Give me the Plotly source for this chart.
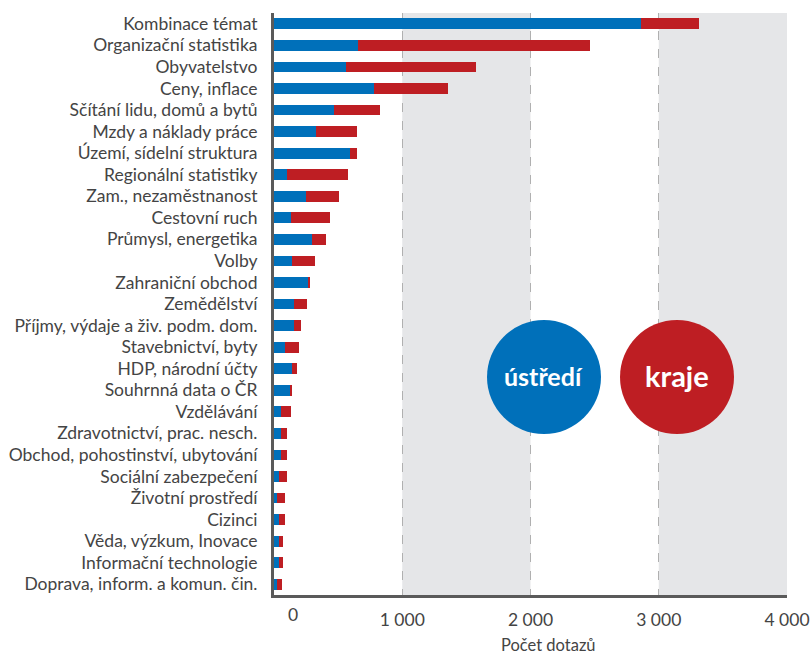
import plotly.graph_objects as go

categories = [
    "Kombinace témat", "Organizační statistika", "Obyvatelstvo", "Ceny, inflace",
    "Sčítání lidu, domů a bytů", "Mzdy a náklady práce", "Území, sídelní struktura",
    "Regionální statistiky", "Zam., nezaměstnanost", "Cestovní ruch",
    "Průmysl, energetika", "Volby", "Zahraniční obchod", "Zemědělství",
    "Příjmy, výdaje a živ. podm. dom.", "Stavebnictví, byty", "HDP, národní účty",
    "Souhrnná data o ČR", "Vzdělávání", "Zdravotnictví, prac. nesch.",
    "Obchod, pohostinství, ubytování", "Sociální zabezpečení", "Životní prostředí",
    "Cizinci", "Věda, výzkum, Inovace", "Informační technologie",
    "Doprava, inform. a komun. čin.",
]
ustredi = [2860, 657, 562, 783, 464, 324, 590, 100, 253, 131, 297, 141, 265, 155,
           155, 88, 141, 125, 57, 57, 57, 40, 26, 40, 40, 40, 26]
kraje = [457, 1805, 1013, 570, 361, 321, 55, 475, 255, 302, 110, 182, 17, 100,
         56, 109, 41, 13, 73, 43, 43, 60, 60, 46, 33, 33, 34]
x_ticks = [1000, 2000, 3000, 4000]
x_ticktext = ["1 000", "2 000", "3 000", "4 000"]

BLUE = "#0070BA"
RED = "#BE1E23"
TEXT = "#444444"
FONT = "Lato"

fig = go.Figure()
fig.add_trace(go.Bar(y=categories, x=ustredi, orientation="h", name="ústředí",
                     marker=dict(color=BLUE, line=dict(width=0))))
fig.add_trace(go.Bar(y=categories, x=kraje, orientation="h", name="kraje",
                     marker=dict(color=RED, line=dict(width=0))))

W, H = 810, 655
L, R, T, B = 274, 23, 13, 60
pw, ph = W - L - R, H - T - B

def px(xp):
    return (xp - L) / pw

def py(yp):
    return (H - B - yp) / ph

shapes = []
for a, b in [(1000, 2000), (3000, 4000)]:
    shapes.append(dict(type="rect", xref="x", yref="paper", x0=a, x1=b, y0=0, y1=1,
                       fillcolor="#E5E6E8", line=dict(width=0), layer="below"))
shapes.append(dict(type="circle", xref="paper", yref="paper",
                   x0=px(487), x1=px(601), y0=py(434), y1=py(320),
                   fillcolor=BLUE, line=dict(width=0)))
shapes.append(dict(type="circle", xref="paper", yref="paper",
                   x0=px(620), x1=px(734), y0=py(434), y1=py(320),
                   fillcolor=RED, line=dict(width=0)))

def ann(text, x, y, size, color=TEXT):
    return dict(text=text, xref="paper", yref="paper", x=px(x), y=py(y),
                xanchor="center", yanchor="middle", showarrow=False,
                font=dict(family=FONT, size=size, color=color))

annotations = [
    ann("<b>ústředí</b>", 543, 376, 25, "white"),
    ann("<b>kraje</b>", 677, 375, 29, "white"),
    ann("0", 293, 614, 17.5),
    ann("Počet dotazů", 548, 645, 16.5),
]

fig.update_layout(
    width=W, height=H,
    margin=dict(l=L, r=R, t=T, b=B, autoexpand=False),
    barmode="stack", bargap=0.5,
    plot_bgcolor="white", paper_bgcolor="white",
    showlegend=False, hovermode=False,
    font=dict(family=FONT, size=17.5, color=TEXT),
    shapes=shapes, annotations=annotations,
    xaxis=dict(range=[0, 4000], tickvals=x_ticks, ticktext=x_ticktext,
               showgrid=True, gridcolor="#B0B0B0", griddash="dash", gridwidth=1,
               zeroline=False, showline=True, linecolor="#5A5A5A", linewidth=3,
               ticks="", ticklabelstandoff=7, tickfont=dict(size=17.5, color=TEXT),
               automargin=False, fixedrange=True),
    yaxis=dict(autorange="reversed", showgrid=False, zeroline=False,
               showline=True, linecolor="#5A5A5A", linewidth=3, ticks="",
               ticklabelstandoff=10, tickfont=dict(size=17.5, color=TEXT),
               automargin=False, fixedrange=True),
)

fig.write_html("out.html",
               config={"displayModeBar": False, "staticPlot": True},
               post_script="document.body.style.margin='0px';document.body.style.overflow='hidden';")
